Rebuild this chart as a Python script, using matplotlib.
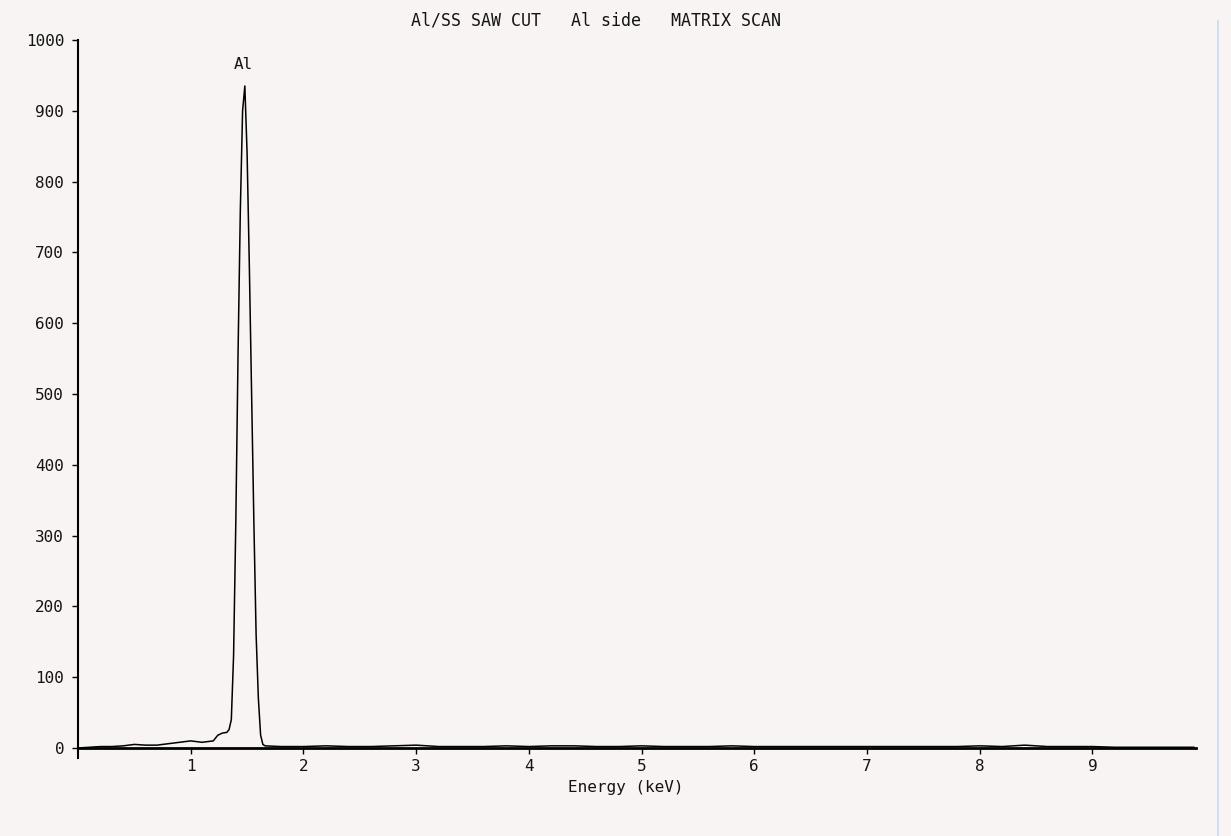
import matplotlib.pyplot as plt
from matplotlib.lines import Line2D

# EDS spectrum, Al side of saw cut
title = 'Al/SS SAW CUT   Al side   MATRIX SCAN'
peak_label = 'Al'
peak_pos = (1.47, 955)

# energy (keV) and counts
energy = [0.0, 0.1, 0.2, 0.3, 0.4, 0.5, 0.6, 0.7, 0.8, 0.9, 1.0, 1.1, 1.2,
          1.24, 1.28, 1.32, 1.34, 1.36, 1.38, 1.40, 1.42, 1.44, 1.46, 1.48,
          1.50, 1.52, 1.54, 1.56, 1.58, 1.60, 1.62, 1.64, 1.66,
          1.8, 2.0, 2.2, 2.4, 2.6, 2.8, 3.0, 3.2, 3.4, 3.6, 3.8, 4.0,
          4.2, 4.4, 4.6, 4.8, 5.0, 5.2, 5.4, 5.6, 5.8, 6.0, 6.2, 6.4,
          6.6, 6.8, 7.0, 7.2, 7.4, 7.6, 7.8, 8.0, 8.2, 8.4, 8.6, 8.8,
          9.0, 9.2, 9.4, 9.6, 9.8, 9.9]
counts = [0, 1, 2, 2, 3, 5, 4, 4, 6, 8, 10, 8, 10,
          18, 21, 22, 26, 40, 130, 320, 560, 760, 900, 935,
          840, 680, 500, 320, 160, 70, 18, 5, 3,
          2, 2, 3, 2, 2, 3, 4, 2, 2, 2, 3, 2,
          3, 3, 2, 2, 3, 2, 2, 2, 3, 2, 2, 2,
          2, 2, 2, 2, 2, 2, 2, 3, 2, 4, 2, 2,
          2, 1, 1, 1, 1, 1]

x_ticks = [1, 2, 3, 4, 5, 6, 7, 8, 9]
y_ticks = [0, 100, 200, 300, 400, 500, 600, 700, 800, 900, 1000]

bg = '#f7f4f3'
ink = '#141414'
mono = 'DejaVu Sans Mono'
fs = 11.5

fig = plt.figure(figsize=(12.31, 8.36), dpi=100, facecolor=bg)
ax = fig.add_axes([0.0634, 0.1053, 0.9082, 0.8469], facecolor=bg)

ax.plot(energy, counts, color='black', lw=1.1)

ax.set_xlim(0, 9.92)
ax.set_ylim(0, 1000)
ax.set_xticks(x_ticks)
ax.set_yticks(y_ticks)
ax.set_xticklabels([str(t) for t in x_ticks], fontfamily=mono, fontsize=fs, color=ink)
ax.set_yticklabels([str(t) for t in y_ticks], fontfamily=mono, fontsize=fs, color=ink)
ax.tick_params(axis='x', direction='out', length=4, width=1, pad=4)
ax.tick_params(axis='y', direction='out', length=4, width=1, pad=6)

for s in ['top', 'right']:
    ax.spines[s].set_visible(False)
ax.spines['bottom'].set_linewidth(2)
ax.spines['left'].set_linewidth(1.5)
# y axis sticks out a little under the baseline
ax.plot([0, 0], [-14, 0], color='black', lw=1.5, clip_on=False)

ax.text(peak_pos[0], peak_pos[1], peak_label, ha='center', va='bottom',
        fontfamily=mono, fontsize=fs, color=ink)

ax.set_xlabel('Energy (keV)', fontfamily=mono, fontsize=fs, color=ink)
ax.xaxis.set_label_coords(0.49, -0.045)

fig.text(0.484, 0.976, title, ha='center', va='center',
         fontfamily=mono, fontsize=12, color=ink)

# faint scanner edge on the right
fig.add_artist(Line2D([0.9895, 0.9895], [0.0, 0.975], color='#c4dcee', lw=1.2))

fig.savefig('out.png', dpi=100, facecolor=bg)
